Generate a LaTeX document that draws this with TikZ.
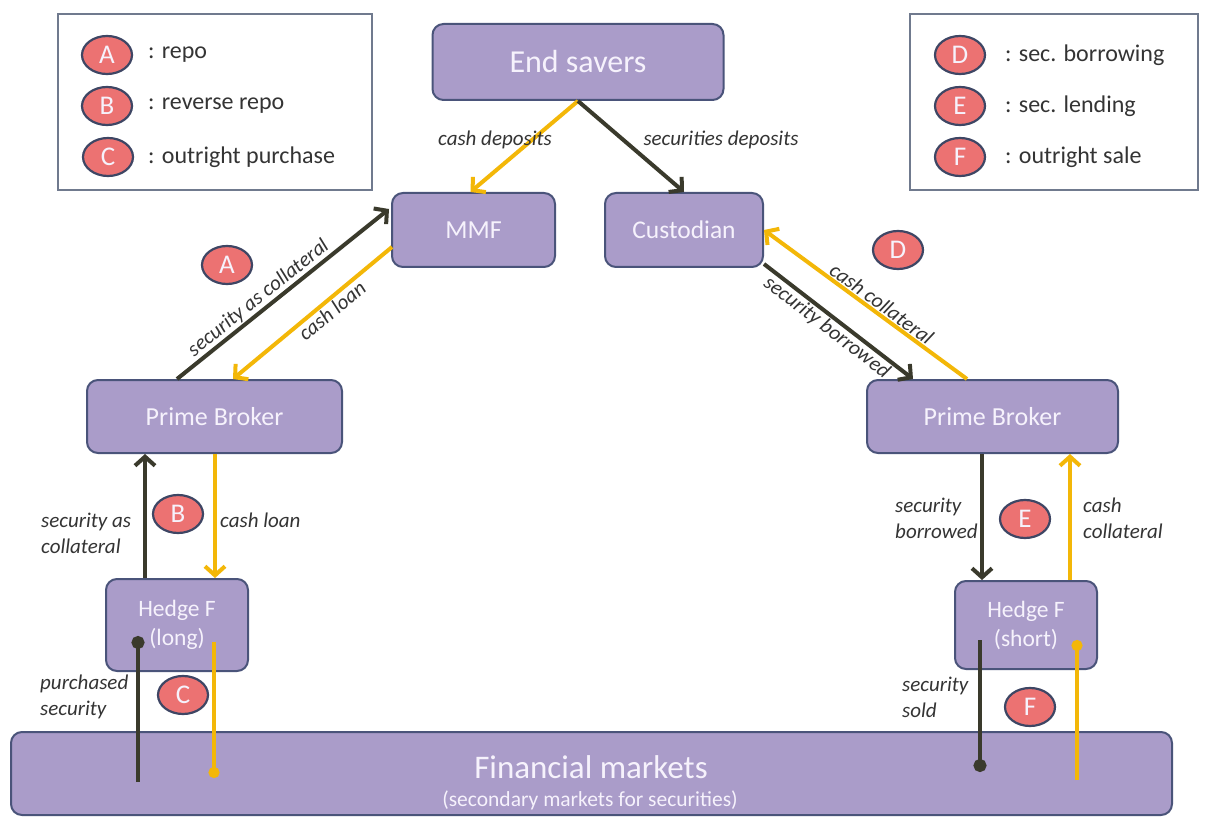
\documentclass[tikz,border=0pt]{standalone}
\usepackage{fontspec}
\setmainfont{Carlito}
\usetikzlibrary{arrows.meta,calc,shapes.geometric}

\definecolor{boxfill}{RGB}{170,156,201}
\definecolor{boxline}{RGB}{74,84,122}
\definecolor{boxtext}{RGB}{246,242,252}
\definecolor{tagfill}{RGB}{236,114,114}
\definecolor{tagline}{RGB}{62,70,100}
\definecolor{secline}{RGB}{58,58,44}
\definecolor{cashline}{RGB}{243,183,8}
\definecolor{lbltext}{RGB}{52,52,52}
\definecolor{legline}{RGB}{112,122,142}

\begin{document}
\begin{tikzpicture}[x=1pt,y=-1pt,
  actor/.style={draw=boxline,line width=2pt,fill=boxfill,rounded corners=11pt,
    text=boxtext,align=center,inner sep=0pt},
  tag/.style={ellipse,draw=tagline,line width=2.2pt,fill=tagfill,text=boxtext,
    minimum width=50pt,minimum height=38pt,inner sep=0pt,font=\fontsize{27}{27}\selectfont},
  legtext/.style={anchor=west,text=lbltext,font=\fontsize{24}{28}\selectfont,inner sep=0pt},
  flowlbl/.style={text=lbltext,font=\fontsize{21}{26}\selectfont\itshape,inner sep=1pt},
  sideflow/.style={text=lbltext,font=\fontsize{21}{26}\selectfont\itshape,inner sep=0pt,
    anchor=west,align=left},
  secflow/.style={draw=secline,line width=4pt,-{Straight Barb[length=9pt,width=20pt]}},
  cashflow/.style={draw=cashline,line width=4pt,-{Straight Barb[length=9pt,width=20pt]}},
  secmkt/.style={draw=secline,line width=4pt,-{Circle[length=13pt,width=13pt]}},
  cashmkt/.style={draw=cashline,line width=4pt,-{Circle[length=11pt,width=11pt]}},
  legbox/.style={draw=legline,line width=1.3pt,fill=white}
]
\useasboundingbox (0,0) rectangle (1210,818);
\fill[white] (0,0) rectangle (1210,818);

% legend panels
\node[legbox,minimum width=314pt,minimum height=176pt,inner sep=0pt] (legL) at (215,102) {};
\node[legbox,minimum width=288pt,minimum height=176pt,inner sep=0pt] (legR) at (1054,102) {};
\node[tag] (lA) at (107,55) {A};
\node[tag] (lB) at (107,106) {B};
\node[tag] (lC) at (108,157) {C};
\node[legtext] (tA) at (148,55) {: repo};
\node[legtext] (tB) at (148,106) {: reverse repo};
\node[legtext] (tC) at (148,157) {: outright purchase};
\node[tag] (lD) at (960,55) {D};
\node[tag] (lE) at (960,106) {E};
\node[tag] (lF) at (960,157) {F};
\node[legtext] (tD) at (1005,55) {: sec. borrowing};
\node[legtext] (tE) at (1005,106) {: sec. lending};
\node[legtext] (tF) at (1005,157) {: outright sale};

% market participants
\node[actor,minimum width=291pt,minimum height=76pt,font=\fontsize{32}{32}\selectfont] (es) at (578,62) {End savers};
\node[actor,minimum width=163pt,minimum height=74pt,font=\fontsize{26}{26}\selectfont] (mmf) at (473.5,230) {MMF};
\node[actor,minimum width=158pt,minimum height=74pt,font=\fontsize{25.5}{26}\selectfont] (cus) at (684,230) {Custodian};
\node[actor,minimum width=255pt,minimum height=73pt,font=\fontsize{26}{26}\selectfont] (pbl) at (214.5,416.5) {Prime Broker};
\node[actor,minimum width=251pt,minimum height=73pt,font=\fontsize{26}{26}\selectfont] (pbr) at (992.5,416.5) {Prime Broker};
\node[actor,minimum width=142pt,minimum height=92pt,font=\fontsize{23.5}{29}\selectfont] (hfl) at (177,625) {Hedge F\\(long)};
\node[actor,minimum width=142pt,minimum height=88pt,font=\fontsize{23.5}{29}\selectfont] (hfs) at (1026,625) {Hedge F\\(short)};
\node[actor,minimum width=1161pt,minimum height=83pt] (fm) at (591.5,773.5) {};
\node[text=boxtext,font=\fontsize{33}{33}\selectfont,inner sep=0pt] (fmt) at (591,767) {Financial markets};
\node[text=boxtext,font=\fontsize{21.5}{22}\selectfont,inner sep=0pt] (fms) at (590,800) {(secondary markets for securities)};

% deposits from end savers
\draw[cashflow] (es.south) -- ($(mmf.north)+(-3,0)$);
\draw[secflow] (es.south) -- (cus.north);
\node[flowlbl] (lcd) at (495,140) {cash deposits};
\node[flowlbl] (lsd) at (721,140) {securities deposits};

% repo between prime broker and MMF
\draw[secflow] ($(pbl.north)+(-37.5,0)$) -- node[flowlbl,sloped,above,pos=0.42] (lsc) {security as collateral} ($(mmf.north west)+(-2,17)$);
\draw[cashflow] ($(mmf.west)+(1,17)$) -- node[flowlbl,sloped,below,pos=0.42] (lcl) {cash loan} ($(pbl.north)+(18.5,0)$);
\node[tag] (tgA) at (227,265) {A};

% securities borrowing between custodian and prime broker
\draw[secflow] ($(cus.south east)+(0,-4)$) -- node[flowlbl,sloped,below,pos=0.47] (lsb) {security borrowed} ($(pbr.north)+(-79.5,0)$);
\draw[cashflow] ($(pbr.north)+(-25.5,0)$) -- node[flowlbl,sloped,above,pos=0.45] (lcc) {cash collateral} (cus.east);
\node[tag] (tgD) at (898,250) {D};

% reverse repo with the long hedge fund
\draw[secflow] ($(hfl.north)+(-32,0)$) -- ($(pbl.south)+(-69.5,0)$);
\draw[cashflow] ($(pbl.south)+(0.5,0)$) -- ($(hfl.north)+(38,0)$);
\node[sideflow] (lsac) at (41,533) {security as\\collateral};
\node[sideflow] (lcl2) at (220,520) {cash loan};
\node[tag] (tgB) at (178,514) {B};

% securities lending to the short hedge fund
\draw[secflow] ($(pbr.south)+(-10.5,0)$) -- ($(hfs.north)+(-44,0)$);
\draw[cashflow] ($(hfs.north)+(44,0)$) -- ($(pbr.south)+(77.5,0)$);
\node[sideflow] (lsb2) at (895,518) {security\\borrowed};
\node[sideflow] (lcc2) at (1083,518) {cash\\collateral};
\node[tag] (tgE) at (1025,519) {E};

% trades on the financial markets
\coordinate (lsecM) at (138,782);
\coordinate (lsecH) at (138,636);
\coordinate (lcashH) at (214,642);
\coordinate (lcashM) at (214,778);
\coordinate (ssecH) at (980,640);
\coordinate (ssecM) at (980,772);
\coordinate (scashM) at (1077,780);
\coordinate (scashH) at (1077,640);
\draw[secmkt] (lsecM) -- (lsecH);
\draw[cashmkt] (lcashH) -- (lcashM);
\draw[secmkt] (ssecH) -- (ssecM);
\draw[cashmkt] (scashM) -- (scashH);
\node[sideflow] (lps) at (40,697) {purchased\\security};
\node[sideflow] (lss) at (902,697) {security\\sold};
\node[tag] (tgC) at (183,695) {C};
\node[tag] (tgF) at (1030,707) {F};
\end{tikzpicture}
\end{document}
